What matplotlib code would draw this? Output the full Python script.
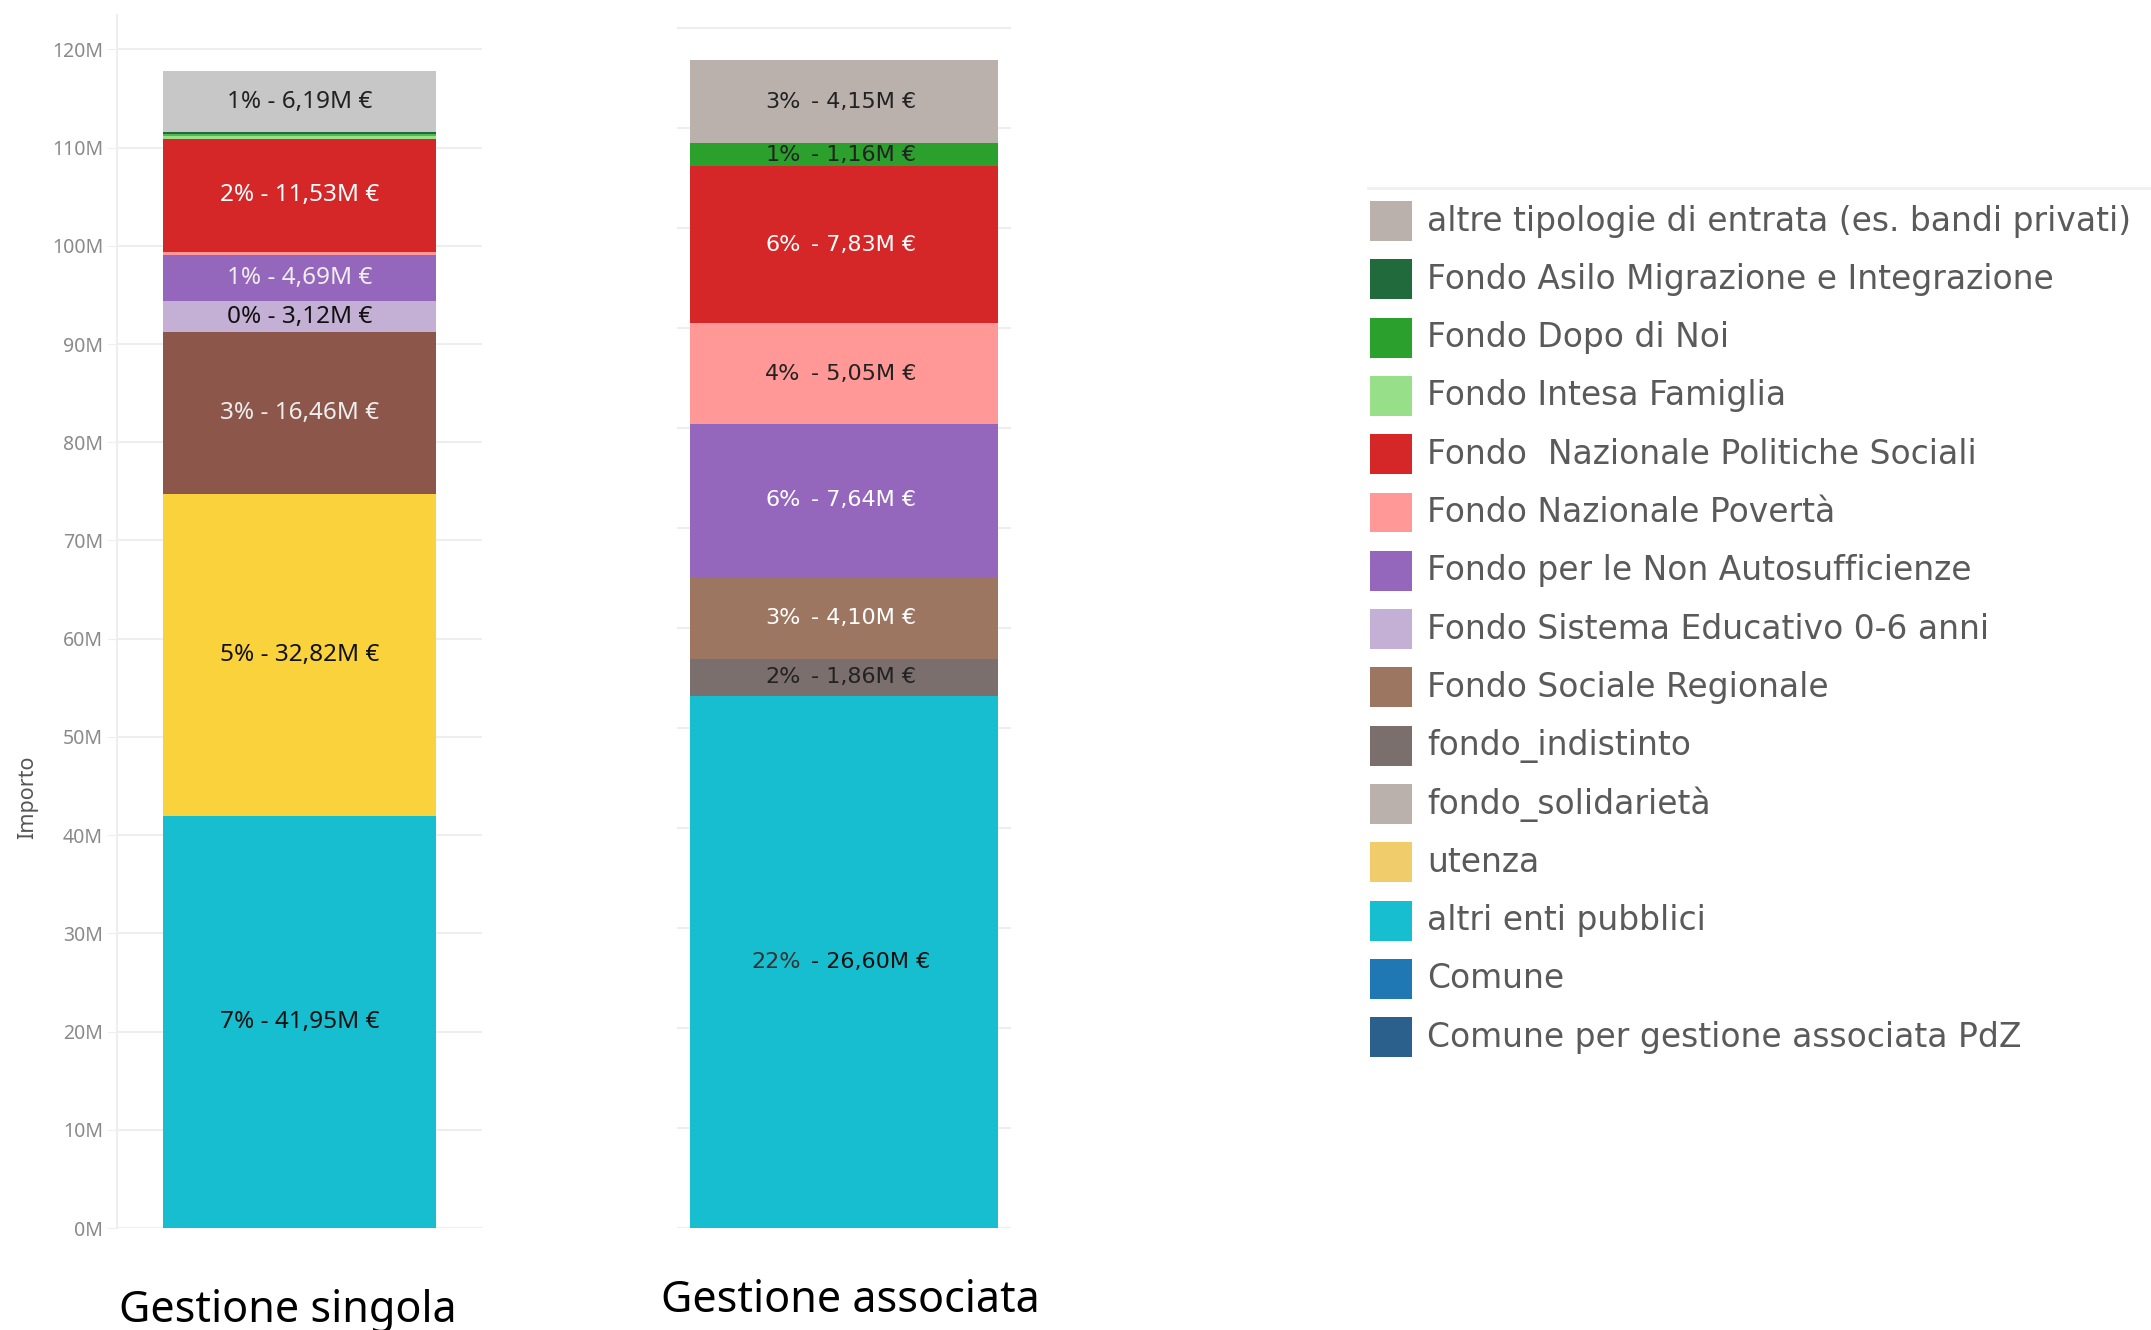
import matplotlib.pyplot as plt
from matplotlib import font_manager
from matplotlib.patches import Rectangle

W, H = 2151, 1330

installed = {f.name for f in font_manager.fontManager.ttflist}
BASE = 'Noto Sans' if 'Noto Sans' in installed else 'DejaVu Sans'
LEG = 'DejaVu Sans'

# Gestione singola (from bottom to top), values in M €
singola_cat = ['altri enti pubblici', 'utenza', 'Fondo Sociale Regionale',
               'Fondo Sistema Educativo 0-6 anni', 'Fondo per le Non Autosufficienze',
               'Fondo Nazionale Povertà', 'Fondo  Nazionale Politiche Sociali',
               'Fondo Intesa Famiglia', 'Fondo Dopo di Noi',
               'Fondo Asilo Migrazione e Integrazione', 'fondo_solidarietà']
singola_val = [41.95, 32.82, 16.46, 3.12, 4.69, 0.35, 11.53, 0.30, 0.20, 0.15, 6.19]
singola_pct = ['7%', '5%', '3%', '0%', '1%', '', '2%', '', '', '', '1%']
singola_col = ['#17becf', '#f9d23c', '#8c564b', '#c5b0d5', '#9467bd', '#ff9896',
               '#d62728', '#98df8a', '#4fb84f', '#216a3c', '#c7c7c7']
singola_txt = ['#111111', '#111111', '#eeeeee', '#111111', '#eeeeee', None,
               '#ffffff', None, None, None, '#222222']

# Gestione associata (from bottom to top), values in M €
assoc_cat = ['altri enti pubblici', 'fondo_indistinto', 'Fondo Sociale Regionale',
             'Fondo per le Non Autosufficienze', 'Fondo Nazionale Povertà',
             'Fondo  Nazionale Politiche Sociali', 'Fondo Dopo di Noi',
             'altre tipologie di entrata (es. bandi privati)']
assoc_val = [26.60, 1.86, 4.10, 7.64, 5.05, 7.83, 1.16, 4.15]
assoc_pct = ['22%', '2%', '3%', '6%', '4%', '6%', '1%', '3%']
assoc_col = ['#17becf', '#7a6f6c', '#9c7660', '#9467bd', '#ff9896', '#d62728',
             '#2ca02c', '#bab0ac']
assoc_txt = ['#111111', '#222222', '#ffffff', '#ffffff', '#222222', '#ffffff',
             '#222222', '#222222']

# legend entries
legend_labels = ['altre tipologie di entrata (es. bandi privati)',
                 'Fondo Asilo Migrazione e Integrazione', 'Fondo Dopo di Noi',
                 'Fondo Intesa Famiglia', 'Fondo  Nazionale Politiche Sociali',
                 'Fondo Nazionale Povertà', 'Fondo per le Non Autosufficienze',
                 'Fondo Sistema Educativo 0-6 anni', 'Fondo Sociale Regionale',
                 'fondo_indistinto', 'fondo_solidarietà', 'utenza',
                 'altri enti pubblici', 'Comune', 'Comune per gestione associata PdZ']
legend_colors = ['#bab0ac', '#216a3c', '#2ca02c', '#98df8a', '#d62728', '#ff9896',
                 '#9467bd', '#c5b0d5', '#9c7660', '#7a6f6c', '#bab0ac', '#f0cd6a',
                 '#17becf', '#1f77b4', '#2b5f8c']

yticks_singola = list(range(0, 121, 10))
yticks_assoc = list(range(0, 61, 5))


def fmt_val(v):
    return f'{v:.2f}'.replace('.', ',') + 'M €'


def frame(x0, y0, x1, y1):
    # pixel box -> figure fraction
    return [x0 / W, 1 - y1 / H, (x1 - x0) / W, (y1 - y0) / H]


fig = plt.figure(figsize=(W / 100, H / 100), dpi=100)
grid_c = '#eeeeee'

# ---- left: Gestione singola
ax1 = fig.add_axes(frame(117, 15, 482, 1228))
bottom = 0
for val, col, pct, tc in zip(singola_val, singola_col, singola_pct, singola_txt):
    ax1.bar(0, val, bottom=bottom, width=0.75, color=col, linewidth=0, zorder=2)
    if tc:
        ax1.text(0, bottom + val / 2, f'{pct} - {fmt_val(val)}', ha='center',
                 va='center', color=tc, fontsize=17.5, family=BASE, zorder=3)
    bottom += val
ax1.set_xlim(-0.5, 0.5)
ax1.set_ylim(0, 123.5)
ax1.set_yticks(yticks_singola)
ax1.set_yticklabels([f'{t}M' for t in yticks_singola], family=BASE, fontsize=14,
                    color='#8a8a8a')
ax1.tick_params(axis='y', length=7, color=grid_c, pad=3)
ax1.set_xticks([])
ax1.grid(axis='y', color=grid_c, linewidth=1.5, zorder=0)
for s in ['top', 'right', 'bottom']:
    ax1.spines[s].set_visible(False)
ax1.spines['left'].set_color(grid_c)
ax1.spines['left'].set_linewidth(1.5)
ax1.set_ylabel('Importo', family=BASE, fontsize=15.5, color='#555555',
               fontweight='semibold')
ax1.yaxis.set_label_coords(-0.215, 0.355)

# ---- middle: Gestione associata
ax2 = fig.add_axes(frame(677, 20, 1011, 1228))
bottom = 0
for val, col, pct, tc in zip(assoc_val, assoc_col, assoc_pct, assoc_txt):
    ax2.bar(0, val, bottom=bottom, width=0.925, color=col, linewidth=0, zorder=2)
    mid = bottom + val / 2
    pc = '#333333' if pct == '22%' else tc
    ax2.text(-0.13, mid, pct, ha='right', va='center', color=pc, fontsize=16,
             family='DejaVu Sans', zorder=3)
    ax2.text(-0.10, mid, '- ' + fmt_val(val), ha='left', va='center', color=tc,
             fontsize=16, family='DejaVu Sans', zorder=3)
    bottom += val
ax2.set_xlim(-0.5, 0.5)
ax2.set_ylim(0, 60.4)
ax2.set_yticks(yticks_assoc)
ax2.set_yticklabels([])
ax2.tick_params(axis='y', length=0)
ax2.set_xticks([])
ax2.grid(axis='y', color=grid_c, linewidth=1.5, zorder=0)
for s in ax2.spines.values():
    s.set_visible(False)

# category labels under the bars
fig.text(288 / W, 1 - 1322 / H, 'Gestione singola', ha='center', va='baseline',
         fontsize=31, family=BASE, color='#000000')
fig.text(850 / W, 1 - 1312 / H, 'Gestione associata', ha='center', va='baseline',
         fontsize=31, family=BASE, color='#000000')

# ---- right: colour legend
step = 58.3
axl = fig.add_axes(frame(1368, 221 - step / 2 - 4, W, 221 + 14.5 * step))
axl.set_xlim(0, W - 1368)
axl.set_ylim(len(legend_labels) + 4 / step, 0)
for i, (lab, col) in enumerate(zip(legend_labels, legend_colors)):
    yc = i + 0.5 + 4 / step
    axl.add_patch(Rectangle((2, yc - 0.343), 42, 0.686, color=col, linewidth=0))
    axl.text(59, yc, lab, ha='left', va='center', fontsize=23.7, family=LEG,
             color='#5a5a5a')
axl.set_xticks([])
axl.set_yticks([])
for s in ['left', 'right', 'bottom']:
    axl.spines[s].set_visible(False)
axl.spines['top'].set_color('#f0f0f0')
axl.spines['top'].set_linewidth(2)

fig.savefig('out.png', dpi=100, facecolor='white')
